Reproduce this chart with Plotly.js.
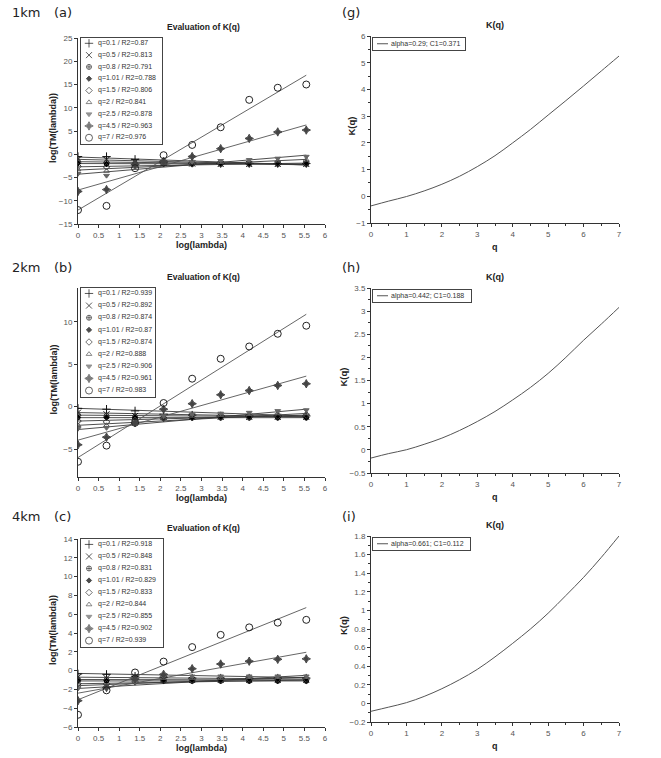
<!DOCTYPE html>
<html><head><meta charset="utf-8">
<script src="https://cdn.plot.ly/plotly-3.0.1.min.js"></script>
<style>html,body{margin:0;padding:0;background:#fff}#chart{width:661px;height:758px}</style>
</head><body><div id="chart"></div>
<script>
// ---------------- DATA ----------------
const logLambda = [0, 0.693, 1.386, 2.079, 2.773, 3.466, 4.159, 4.852, 5.545];
const qValues = ['0.1', '0.5', '0.8', '1.01', '1.5', '2', '2.5', '4.5', '7'];
const r2_1km = ['0.87', '0.813', '0.791', '0.788', '0.806', '0.841', '0.878', '0.963', '0.976'];
const r2_2km = ['0.939', '0.892', '0.874', '0.87', '0.874', '0.888', '0.906', '0.961', '0.983'];
const r2_4km = ['0.918', '0.848', '0.831', '0.829', '0.833', '0.844', '0.855', '0.902', '0.939'];

// log(TM(lambda)) for each q (rows follow qValues)
const tm1km = [
  [-0.5, -0.5, -1.1, -1.7, -1.9, -2.0, -2.0, -2.0, -2.0],
  [-1.1, -1.2, -1.6, -1.9, -2.0, -2.1, -2.1, -2.1, -2.1],
  [-1.6, -1.8, -2.0, -2.0, -2.1, -2.1, -2.1, -2.1, -2.1],
  [-2.0, -2.1, -2.1, -2.1, -2.1, -2.1, -2.1, -2.1, -2.1],
  [-2.6, -2.7, -2.3, -2.0, -2.0, -2.0, -2.0, -1.9, -1.9],
  [-3.3, -3.6, -2.6, -1.9, -1.8, -1.7, -1.6, -1.4, -1.2],
  [-4.2, -4.6, -2.8, -1.8, -1.6, -1.4, -1.2, -0.9, -0.5],
  [-8.0, -7.6, -2.2, -1.5, -0.5, 1.2, 3.4, 4.8, 5.2],
  [-12.0, -11.1, -3.0, -0.2, 2.0, 5.8, 11.7, 14.3, 15.0]
];
const fitStart1km = [-0.6, -1.1, -1.6, -2.0, -2.7, -3.4, -4.3, -7.7, -12.0];
const fitEnd1km   = [-2.3, -2.3, -2.2, -2.1, -1.9, -1.1, -0.2, 6.3, 17.0];

const tm2km = [
  [-0.2, -0.3, -0.5, -0.9, -1.0, -1.1, -1.1, -1.1, -1.1],
  [-0.7, -0.9, -1.1, -1.2, -1.2, -1.2, -1.2, -1.2, -1.2],
  [-1.0, -1.1, -1.2, -1.3, -1.3, -1.3, -1.3, -1.3, -1.3],
  [-1.3, -1.3, -1.3, -1.3, -1.3, -1.3, -1.3, -1.3, -1.3],
  [-1.7, -1.8, -1.6, -1.4, -1.3, -1.2, -1.2, -1.1, -1.0],
  [-2.2, -2.2, -1.8, -1.3, -1.1, -1.0, -0.9, -0.8, -0.8],
  [-2.6, -2.5, -1.9, -1.1, -0.9, -0.8, -0.7, -0.5, -0.4],
  [-4.5, -3.6, -1.9, -0.3, 0.35, 1.4, 1.9, 2.5, 2.7],
  [-6.5, -4.6, -1.9, 0.43, 3.3, 5.65, 7.1, 8.6, 9.55]
];
const fitStart2km = [-0.2, -0.7, -1.0, -1.3, -1.7, -2.2, -2.7, -3.95, -6.0];
const fitEnd2km   = [-1.1, -1.2, -1.2, -1.3, -1.0, -0.8, -0.3, 3.6, 10.9];

const tm4km = [
  [-0.35, -0.4, -0.6, -0.7, -0.8, -0.8, -0.8, -0.8, -0.8],
  [-0.7, -0.8, -0.9, -0.9, -1.0, -1.0, -1.0, -1.0, -1.0],
  [-0.95, -1.0, -1.0, -1.1, -1.1, -1.1, -1.1, -1.1, -1.1],
  [-1.1, -1.1, -1.1, -1.1, -1.1, -1.1, -1.1, -1.1, -1.1],
  [-1.4, -1.4, -1.2, -1.0, -1.0, -1.0, -0.9, -0.9, -0.9],
  [-1.6, -1.6, -1.2, -0.8, -0.8, -0.8, -0.7, -0.7, -0.7],
  [-1.9, -1.8, -1.2, -0.6, -0.6, -0.6, -0.6, -0.6, -0.6],
  [-3.2, -1.8, -0.9, -0.4, 0.2, 0.7, 1.0, 1.2, 1.25],
  [-4.7, -2.1, -0.2, 0.96, 2.5, 3.8, 4.6, 5.1, 5.4]
];
const fitStart4km = [-0.3, -0.7, -0.95, -1.1, -1.4, -1.6, -1.9, -2.4, -3.1];
const fitEnd4km   = [-0.75, -0.9, -1.0, -1.1, -1.0, -0.7, -0.5, 1.95, 6.7];

// K(q) curves
const qGrid  = [0, 0.5, 1, 1.5, 2, 2.5, 3, 3.5, 4, 4.5, 5, 5.5, 6, 6.5, 7];
const kq1km  = [-0.36, -0.18, -0.01, 0.2, 0.45, 0.75, 1.11, 1.52, 2.0, 2.5, 3.04, 3.58, 4.13, 4.69, 5.25];
const kq2km  = [-0.177, -0.08, 0.003, 0.12, 0.254, 0.42, 0.613, 0.83, 1.08, 1.35, 1.654, 2.0, 2.37, 2.72, 3.08];
const kq4km  = [-0.085, -0.04, 0.008, 0.075, 0.158, 0.255, 0.366, 0.5, 0.646, 0.80, 0.97, 1.16, 1.355, 1.57, 1.8];
const kqLegend = ['alpha=0.29; C1=0.371', 'alpha=0.442; C1=0.188', 'alpha=0.661; C1=0.112'];

// ---------------- STYLE ----------------
const W = 661, H = 758;
const px = v => v / W, py = v => 1 - v / H;
const FONT = 'Liberation Sans, Arial, sans-serif';
const symbols = ['cross-thin-open', 'x-thin-open', 'circle-cross-open', 'diamond', 'diamond-open', 'triangle-up-open', 'triangle-down', 'star-diamond', 'circle-open'];
const mColors = ['#111', '#111', '#333', '#000', '#333', '#555', '#666', '#444', '#222'];
const mSizes  = [6, 6, 5, 4, 5, 5, 5, 6, 7];

const traces = [];
const layout = {
  width: W, height: H, margin: {l: 0, r: 0, t: 0, b: 0},
  paper_bgcolor: '#fff', plot_bgcolor: '#fff', showlegend: false,
  font: {family: FONT, color: '#333'},
  annotations: [], shapes: []
};

const baseAxis = {
  showline: true, linecolor: '#333', linewidth: 1, ticks: 'outside', ticklen: 3,
  tickcolor: '#333', tickfont: {size: 8, color: '#555', family: FONT},
  showgrid: false, zeroline: false, fixedrange: true
};

function ann(text, x, y, size, opts) {
  layout.annotations.push(Object.assign({
    text: text, x: px(x), y: py(y), xref: 'paper', yref: 'paper', showarrow: false,
    xanchor: 'center', yanchor: 'middle', font: {size: size, family: FONT, color: '#222'}
  }, opts || {}));
}

const leftPanels = [
  {tm: tm1km, fs: fitStart1km, fe: fitEnd1km, r2: r2_1km, top: 38, bot: 224, yr: [-15, 25], dt: 5, tag: '1km', lab: '(a)', ly: 13, legTop: 38, legBot: 144, legR: 162},
  {tm: tm2km, fs: fitStart2km, fe: fitEnd2km, r2: r2_2km, top: 288, bot: 477, yr: [-8.3, 14], dt: 5, tag: '2km', lab: '(b)', ly: 267, legTop: 288, legBot: 397, legR: 155},
  {tm: tm4km, fs: fitStart4km, fe: fitEnd4km, r2: r2_4km, top: 539, bot: 727, yr: [-6, 14], dt: 2, tag: '4km', lab: '(c)', ly: 516, legTop: 539, legBot: 647, legR: 163}
];
const rightPanels = [
  {k: kq1km, top: 36, bot: 223, yr: [-1, 6], dt: 1, mdt: 0.5, lab: '(g)', ly: 13, leg: kqLegend[0], legR: 465},
  {k: kq2km, top: 288, bot: 473, yr: [-0.5, 3.5], dt: 0.5, mdt: 0.25, lab: '(h)', ly: 267, leg: kqLegend[1], legR: 471},
  {k: kq4km, top: 536, bot: 722, yr: [-0.2, 1.8], dt: 0.2, mdt: 0.1, lab: '(i)', ly: 516, leg: kqLegend[2], legR: 470}
];

const LX0 = 78, LX1 = 325, RX0 = 371, RX1 = 619;
let axN = 1;
function axName(n) { return n === 1 ? '' : String(n); }

leftPanels.forEach((p, idx) => {
  const n = axN++;
  const xa = 'x' + axName(n), ya = 'y' + axName(n);
  layout['xaxis' + axName(n)] = Object.assign({}, baseAxis, {
    domain: [px(LX0), px(LX1)], range: [0, 6], dtick: 0.5, tick0: 0, anchor: ya
  });
  layout['yaxis' + axName(n)] = Object.assign({}, baseAxis, {
    domain: [py(p.bot), py(p.top)], range: p.yr, dtick: p.dt, tick0: 0, anchor: xa
  });
  const xEnd = logLambda[logLambda.length - 1];
  for (let i = 0; i < qValues.length; i++) {
    traces.push({x: [logLambda[0], xEnd], y: [p.fs[i], p.fe[i]], xaxis: xa, yaxis: ya,
      mode: 'lines', line: {color: i >= 7 ? '#555' : '#3a3a3a', width: 0.9}, hoverinfo: 'skip'});
  }
  for (let i = 0; i < qValues.length; i++) {
    traces.push({x: logLambda, y: p.tm[i], xaxis: xa, yaxis: ya, mode: 'markers',
      marker: {symbol: symbols[i], size: mSizes[i], color: mColors[i], line: {color: mColors[i], width: 1}},
      hoverinfo: 'skip'});
  }
  // legend box on hidden axis
  const ln = axN++;
  const lxa = 'x' + axName(ln), lya = 'y' + axName(ln);
  const legAxis = {showline: true, mirror: true, linecolor: '#444', linewidth: 1, ticks: '', showticklabels: false,
    showgrid: false, zeroline: false, fixedrange: true};
  layout['xaxis' + axName(ln)] = Object.assign({}, legAxis, {domain: [px(81), px(p.legR)], range: [0, 1], anchor: lya});
  const nItems = qValues.length;
  layout['yaxis' + axName(ln)] = Object.assign({}, legAxis, {domain: [py(p.legBot), py(p.legTop)], range: [nItems - 0.5 + 0.03, -0.45], anchor: lxa});
  const wBox = p.legR - 81;
  const idxs = qValues.map((_, i) => i);
  traces.push({x: idxs.map(() => 8 / wBox), y: idxs, xaxis: lxa, yaxis: lya, mode: 'markers', cliponaxis: false,
    marker: {symbol: symbols, size: mSizes, color: mColors, line: {color: mColors, width: 1}}, hoverinfo: 'skip'});
  traces.push({x: idxs.map(() => 17 / wBox), y: idxs, xaxis: lxa, yaxis: lya, mode: 'text', cliponaxis: false,
    text: qValues.map((q, i) => 'q=' + q + ' / R2=' + p.r2[i]), textposition: 'middle right',
    textfont: {size: 7, color: '#333', family: FONT}, hoverinfo: 'skip'});
  // text
  const cx = (LX0 + LX1) / 2;
  ann('<b>Evaluation of K(q)</b>', cx + 2, p.top - 11, 8.5);
  ann('<b>log(lambda)</b>', cx, p.bot + 21, 9);
  ann('<b>log(TM(lambda))</b>', 53, (p.top + p.bot) / 2 - 3, 9, {textangle: -90});
  ann(p.tag, 10, p.ly, 13, {xanchor: 'left', font: {size: 13, family: 'DejaVu Sans, sans-serif', color: '#222'}});
  ann(p.lab, 52, p.ly, 13, {xanchor: 'left', font: {size: 13, family: 'DejaVu Sans, sans-serif', color: '#222'}});
});

rightPanels.forEach((p, idx) => {
  const n = axN++;
  const xa = 'x' + axName(n), ya = 'y' + axName(n);
  layout['xaxis' + axName(n)] = Object.assign({}, baseAxis, {
    domain: [px(RX0), px(RX1)], range: [0, 7], dtick: 1, tick0: 0, anchor: ya,
    minor: {ticks: 'outside', ticklen: 2, dtick: 0.5, tickcolor: '#333'}
  });
  layout['yaxis' + axName(n)] = Object.assign({}, baseAxis, {
    domain: [py(p.bot), py(p.top)], range: p.yr, dtick: p.dt, tick0: 0, anchor: xa,
    minor: {ticks: 'outside', ticklen: 2, dtick: p.mdt, tickcolor: '#333'}
  });
  traces.push({x: qGrid, y: p.k, xaxis: xa, yaxis: ya, mode: 'lines',
    line: {color: '#555', width: 1, shape: 'spline'}, hoverinfo: 'skip'});
  // legend
  const ln = axN++;
  const lxa = 'x' + axName(ln), lya = 'y' + axName(ln);
  const legAxis = {showline: true, mirror: true, linecolor: '#444', linewidth: 1, ticks: '', showticklabels: false,
    showgrid: false, zeroline: false, fixedrange: true};
  const wBox = p.legR - 373;
  layout['xaxis' + axName(ln)] = Object.assign({}, legAxis, {domain: [px(373), px(p.legR)], range: [0, 1], anchor: lya});
  layout['yaxis' + axName(ln)] = Object.assign({}, legAxis, {domain: [py(p.top + 14), py(p.top + 1.5)], range: [0, 1], anchor: lxa});
  traces.push({x: [4 / wBox, 15 / wBox], y: [0.5, 0.5], xaxis: lxa, yaxis: lya, mode: 'lines',
    line: {color: '#555', width: 1}, hoverinfo: 'skip'});
  traces.push({x: [18 / wBox], y: [0.5], xaxis: lxa, yaxis: lya, mode: 'text', cliponaxis: false,
    text: [p.leg], textposition: 'middle right', textfont: {size: 7, color: '#333', family: FONT}, hoverinfo: 'skip'});
  const cx = (RX0 + RX1) / 2;
  ann('<b>K(q)</b>', cx, p.top - 11, 9);
  ann('<b>q</b>', cx, p.bot + 24, 9);
  ann('<b>K(q)</b>', idx === 0 ? 351 : 343, (p.top + p.bot) / 2 - 3, 9.5, {textangle: -90});
  ann(p.lab, 340, p.ly, 13, {xanchor: 'left', font: {size: 13, family: 'DejaVu Sans, sans-serif', color: '#222'}});
});

Plotly.newPlot('chart', traces, layout, {staticPlot: true, displayModeBar: false});
</script>
</body></html>
